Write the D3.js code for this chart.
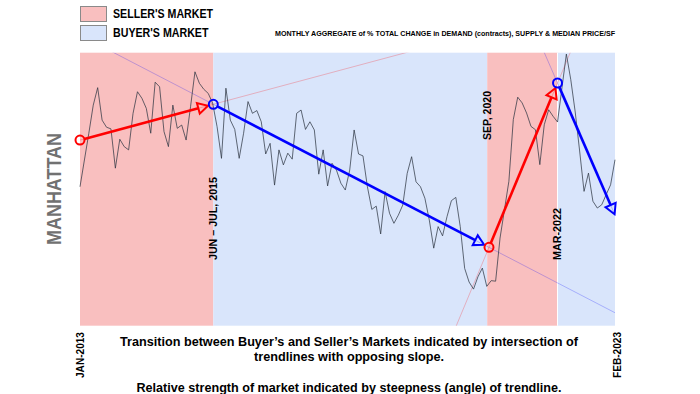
<!DOCTYPE html>
<html>
<head>
<meta charset="utf-8">
<script src="https://cdn.jsdelivr.net/npm/d3@7/dist/d3.min.js"></script>
<style>
  html, body { margin: 0; padding: 0; background: #ffffff; }
  svg { display: block; font-family: "Liberation Sans", Arial, sans-serif; }
</style>
</head>
<body>
<svg id="chart" width="700" height="394"></svg>
<script>
// ---------------- DATA ----------------
// month index 0 = JAN-2013 ... 121 = FEB-2023
const monthLabels = ["JAN-2013", "FEB-2023"];
const monthDomain = [0, 121];

// monthly aggregate of % total change (index units)
const seriesValues = [
  50.9, 60.7, 70.5, 80.8, 87.2, 75.3, 72.7, 72.1, 57.7, 68.3,
  65.6, 64.4, 77.8, 85.7, 83.3, 79.6, 70.5, 89.2, 87.5, 71.1,
  65.6, 80.8, 72.3, 73.5, 68.0, 80.2, 93.0, 88.8, 86.6, 85.1,
  81.5, 72.9, 61.3, 87.0, 75.3, 71.9, 61.3, 70.5, 82.1, 77.8,
  78.8, 74.7, 62.9, 66.8, 51.5, 64.4, 58.9, 63.2, 61.0, 77.8,
  79.0, 71.9, 74.7, 71.7, 55.5, 64.4, 51.2, 59.5, 57.0, 52.2,
  49.7, 57.0, 71.7, 62.9, 62.2, 50.9, 42.6, 43.8, 33.6, 49.1,
  41.2, 37.5, 40.5, 44.2, 55.8, 61.9, 52.7, 50.9, 46.7, 38.7,
  28.4, 36.3, 32.9, 39.9, 45.8, 47.0, 36.3, 21.0, 16.0, 13.4,
  17.9, 21.1, 14.4, 16.5, 16.3, 32.1, 42.5, 52.9, 75.5, 83.7,
  81.6, 77.9, 73.0, 71.8, 59.0, 73.6, 79.1, 76.7, 74.6, 87.1,
  99.5, 90.1, 78.3, 64.0, 49.2, 55.9, 45.6, 43.1, 44.3, 48.0,
  51.6, 60.8
];

// market regimes (month index start/end)
const regimeStart = [0, 30.15, 92.1, 108.0];
const regimeEnd   = [30.15, 92.1, 108.0, 121];
const regimeType  = ["seller", "buyer", "seller", "buyer"];

// trendlines (start month, start value, end month, end value)
const trendType = ["seller", "buyer", "seller", "buyer"];
const trendX0 = [0, 30.15, 92.5, 108.0];
const trendV0 = [68.0, 81.1, 28.7, 88.9];
const trendX1 = [30.15, 92.5, 108.0, 121];
const trendV1 = [81.1, 28.7, 88.9, 40.5];
const trendEndCircle = [true, true, true, false];

// transition labels
const transitionLabels = ["JUN – JUL, 2015", "SEP, 2020", "MAR-2022"];
const transitionMonth = [30.15, 92.1, 108.0];

const legendLabels = ["SELLER'S MARKET", "BUYER'S MARKET"];
const subtitle = "MONTHLY AGGREGATE of % TOTAL CHANGE in DEMAND (contracts), SUPPLY & MEDIAN PRICE/SF";
const sideTitle = "MANHATTAN";
const captionLines = [
  "Transition between Buyer’s and Seller’s Markets indicated by intersection of",
  "trendlines with opposing slope.",
  "Relative strength of market indicated by steepness (angle) of trendline."
];

// ---------------- STYLE / LAYOUT ----------------
const colors = { seller: "#f9bfbf", buyer: "#d9e5fb" };
const trendColors = { seller: "#ff0000", buyer: "#0000ff" };
const plot = { left: 80, right: 615, top: 52.7, bottom: 325.7 };

const svg = d3.select("#chart");
const x = d3.scaleLinear().domain(monthDomain).range([plot.left, plot.right]);
const y = d3.scaleLinear().domain([0, 100]).range([plot.bottom, plot.top]);

function addText(g, str, px, py, o) {
  const t = g.append("text")
    .attr("x", px).attr("y", py)
    .attr("font-size", o.size)
    .attr("font-weight", o.weight || "bold")
    .attr("fill", o.fill || "#000")
    .attr("text-anchor", o.anchor || "start")
    .text(str);
  if (o.len) t.attr("textLength", o.len).attr("lengthAdjust", "spacingAndGlyphs");
  if (o.rotate) t.attr("transform", `rotate(-90, ${px}, ${py})`);
  return t;
}

// clip
svg.append("defs").append("clipPath").attr("id", "plotclip")
  .append("rect")
  .attr("x", plot.left).attr("y", plot.top)
  .attr("width", plot.right - plot.left).attr("height", plot.bottom - plot.top);

// regimes
svg.append("g").selectAll("rect")
  .data(regimeType.map((t, i) => ({ t, s: regimeStart[i], e: regimeEnd[i] })))
  .join("rect")
  .attr("x", d => x(d.s))
  .attr("y", plot.top)
  .attr("width", d => x(d.e) - x(d.s))
  .attr("height", plot.bottom - plot.top)
  .attr("fill", d => colors[d.t]);

// thin white separator at last boundary
svg.append("line")
  .attr("x1", x(regimeStart[3])).attr("x2", x(regimeStart[3]))
  .attr("y1", plot.top).attr("y2", plot.bottom)
  .attr("stroke", "#ffffff").attr("stroke-width", 1);

// trend extensions
const trends = trendType.map((t, i) => ({
  t, x0: trendX0[i], v0: trendV0[i], x1: trendX1[i], v1: trendV1[i], circ: trendEndCircle[i]
}));
const ext = svg.append("g").attr("clip-path", "url(#plotclip)");
trends.forEach(d => {
  const slope = (d.v1 - d.v0) / (d.x1 - d.x0);
  const xa = monthDomain[0] - 10, xb = monthDomain[1] + 10;
  ext.append("line")
    .attr("x1", x(xa)).attr("y1", y(d.v0 + slope * (xa - d.x0)))
    .attr("x2", x(xb)).attr("y2", y(d.v0 + slope * (xb - d.x0)))
    .attr("stroke", trendColors[d.t])
    .attr("stroke-opacity", 0.24)
    .attr("stroke-width", 1);
});

// data line
svg.append("path")
  .datum(seriesValues)
  .attr("fill", "none")
  .attr("stroke", "#2b3340")
  .attr("stroke-opacity", 0.72)
  .attr("stroke-width", 1)
  .attr("stroke-linejoin", "miter")
  .attr("d", d3.line().x((d, i) => x(i)).y(d => y(d)));

// trend arrows
const arr = svg.append("g");
const r = 4.5, headLen = 10, headW = 5.5;
trends.forEach(d => {
  const ax = x(d.x0), ay = y(d.v0), bx = x(d.x1), by = y(d.v1);
  const dx = bx - ax, dy = by - ay, L = Math.hypot(dx, dy);
  const ux = dx / L, uy = dy / L;
  const tipOff = d.circ ? r + 1 : 1;
  const tx = bx - ux * tipOff, ty = by - uy * tipOff;
  const baseX = tx - ux * headLen, baseY = ty - uy * headLen;
  const col = trendColors[d.t];
  arr.append("line")
    .attr("x1", ax + ux * r).attr("y1", ay + uy * r)
    .attr("x2", baseX).attr("y2", baseY)
    .attr("stroke", col).attr("stroke-width", 2.6);
  const px = -uy, py = ux;
  arr.append("path")
    .attr("d", `M${tx},${ty} L${baseX + px * headW},${baseY + py * headW} L${baseX - px * headW},${baseY - py * headW} Z`)
    .attr("fill", "none").attr("stroke", col).attr("stroke-width", 2)
    .attr("stroke-linejoin", "miter");
});
// circles at turning points
const circlePts = [];
trends.forEach(d => circlePts.push({ m: d.x0, v: d.v0, t: d.t }));
arr.selectAll("circle").data(circlePts).join("circle")
  .attr("cx", d => x(d.m)).attr("cy", d => y(d.v)).attr("r", r)
  .attr("fill", "none").attr("stroke", d => trendColors[d.t]).attr("stroke-width", 2);

// transition labels (rotated)
const lab = svg.append("g");
const transTop = [177, 91, 208];
const transLen = [83, 49, 52];
transitionLabels.forEach((s, i) => {
  addText(lab, s, x(transitionMonth[i]) + 3.8, transTop[i],
    { size: 10.5, anchor: "end", rotate: true, len: transLen[i] });
});

// axis end labels
addText(lab, monthLabels[0], x(monthDomain[0]) + 3.5, 332, { size: 10.5, anchor: "end", rotate: true, len: 46 });
addText(lab, monthLabels[1], x(monthDomain[1]) + 5.5, 332, { size: 10.5, anchor: "end", rotate: true, len: 46 });

// side title
addText(lab, sideTitle, 61, 189, { size: 21, anchor: "middle", rotate: true, len: 112, fill: "#717171" });

// legend
const leg = svg.append("g");
const legTypes = ["seller", "buyer"];
legTypes.forEach((t, i) => {
  leg.append("rect")
    .attr("x", 80.5).attr("y", 6.5 + i * 19)
    .attr("width", 26).attr("height", 15)
    .attr("fill", colors[t]).attr("stroke", "#8a8a8a").attr("stroke-width", 1);
});
addText(leg, legendLabels[0], 113, 18, { size: 12.5, len: 100 });
addText(leg, legendLabels[1], 113, 37, { size: 12.5, len: 95.5 });
addText(leg, subtitle, 615, 36, { size: 7.2, anchor: "end", len: 340 });

// caption
const cap = svg.append("g");
addText(cap, captionLines[0], 349, 346, { size: 13, anchor: "middle", len: 458 });
addText(cap, captionLines[1], 349, 361, { size: 13, anchor: "middle", len: 190 });
addText(cap, captionLines[2], 349, 391.5, { size: 13, anchor: "middle", len: 425 });
</script>
</body>
</html>
